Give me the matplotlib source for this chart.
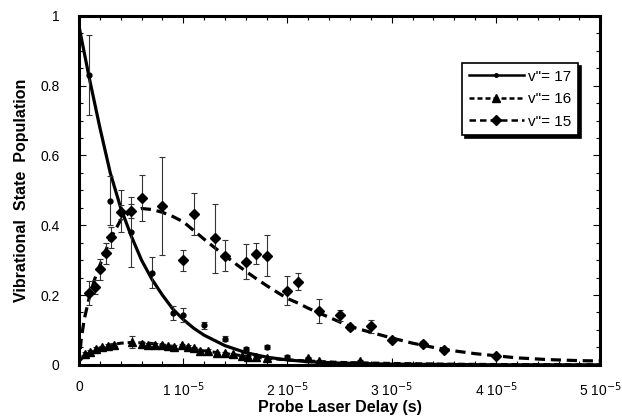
import matplotlib
matplotlib.use("Agg")
import matplotlib.pyplot as plt
import numpy as np
from matplotlib.ticker import MultipleLocator

plt.rcParams['font.family'] = ['Liberation Sans', 'DejaVu Sans']

# measured populations (time in s)
t17 = np.array([1, 3, 4, 5, 7, 9, 10, 12, 14, 16, 18, 20, 22, 27]) * 1e-6
p17 = [0.83, 0.47, 0.44, 0.38, 0.264, 0.148, 0.142, 0.113, 0.075, 0.046, 0.052, 0.023, 0.017, 0.008]
e17 = [0.115, 0.07, 0.06, 0.10, 0.045, 0.02, 0.02, 0.01, 0.008, 0.006, 0.006, 0.004, 0.003, 0.002]

t16 = np.array([0.6, 1.05, 1.6, 2.2, 2.8, 3.4, 5.1, 6.0, 6.6, 7.3, 8.0, 8.5, 9.1, 9.9, 10.5,
                11.0, 11.6, 12.4, 13.2, 14.0, 14.8, 15.6, 16.2, 17.0, 18.0, 22.0, 23.0, 27.0]) * 1e-6
p16 = [0.032, 0.038, 0.046, 0.05, 0.055, 0.058, 0.066, 0.06, 0.058, 0.058, 0.056, 0.054, 0.052, 0.057, 0.052,
       0.047, 0.04, 0.04, 0.035, 0.033, 0.03, 0.026, 0.023, 0.023, 0.02, 0.02, 0.012, 0.012]
e16 = [0.004, 0.004, 0.004, 0.004, 0.004, 0.004, 0.018, 0.005, 0.004, 0.004, 0.004, 0.004, 0.004, 0.004, 0.004,
       0.004, 0.004, 0.004, 0.003, 0.003, 0.003, 0.003, 0.003, 0.003, 0.003, 0.003, 0.002, 0.002]

t15 = np.array([1, 1.5, 2, 2.6, 3.1, 4, 5, 6, 8, 10, 11, 13, 14, 16, 17, 18, 20, 21,
                23, 25, 26, 28, 30, 33, 35, 40]) * 1e-6
p15 = [0.205, 0.222, 0.274, 0.32, 0.365, 0.437, 0.44, 0.478, 0.455, 0.30, 0.432, 0.362, 0.313, 0.295, 0.318, 0.313, 0.212, 0.238,
       0.155, 0.142, 0.107, 0.11, 0.072, 0.061, 0.043, 0.026]
e15 = [0.035, 0.02, 0.03, 0.03, 0.03, 0.02, 0.02, 0.067, 0.14, 0.03, 0.06, 0.1, 0.045, 0.05, 0.03, 0.058, 0.042, 0.025,
       0.034, 0.015, 0.008, 0.018, 0.008, 0.006, 0.006, 0.005]

# fitted curves
tf17 = np.array([0, 1, 2, 3, 4, 5, 6, 7, 8, 9, 10, 11, 12, 14, 16, 18, 20, 22, 25, 30, 40, 50]) * 1e-6
f17 = [0.97, 0.82, 0.68, 0.55, 0.45, 0.37, 0.30, 0.245, 0.20, 0.16, 0.13, 0.105, 0.085, 0.055, 0.035, 0.022,
       0.014, 0.009, 0.005, 0.002, 0.0, 0.0]

tf16 = np.array([0, 0.5, 1, 2, 3, 4, 5, 6, 7, 8, 9, 10, 12, 14, 16, 18, 20, 22, 25, 30, 35, 40, 50]) * 1e-6
f16 = [0.01, 0.025, 0.035, 0.048, 0.057, 0.062, 0.064, 0.063, 0.061, 0.057, 0.053, 0.049, 0.04, 0.032, 0.025,
       0.019, 0.014, 0.011, 0.007, 0.004, 0.002, 0.001, 0.0]

tf15 = np.array([0, 0.2, 0.5, 1, 1.5, 2, 3, 4, 5, 6, 7, 8, 9, 10, 11, 12, 13, 14, 15, 16, 17, 18, 19, 20,
                 21, 22, 24, 26, 28, 30, 32, 34, 36, 38, 40, 42, 45, 48, 50]) * 1e-6
f15 = [0.0, 0.07, 0.13, 0.195, 0.245, 0.285, 0.36, 0.415, 0.44, 0.448, 0.445, 0.437, 0.425, 0.41, 0.385, 0.36,
       0.336, 0.313, 0.29, 0.268, 0.247, 0.227, 0.208, 0.19, 0.177, 0.162, 0.136, 0.11, 0.093, 0.077, 0.062,
       0.05, 0.04, 0.032, 0.026, 0.02, 0.015, 0.012, 0.011]

xticks = [0, 1e-5, 2e-5, 3e-5, 4e-5, 5e-5]
xticklabels = ['0', r'1 10$^{-5}$', r'2 10$^{-5}$', r'3 10$^{-5}$', r'4 10$^{-5}$', r'5 10$^{-5}$']
yticks = [0, 0.2, 0.4, 0.6, 0.8, 1]
yticklabels = ['0', '0.2', '0.4', '0.6', '0.8', '1']

fig = plt.figure(figsize=(6.22, 4.16), dpi=100)
ax = fig.add_axes([0.127, 0.123, 0.838, 0.839])

# fits
ax.plot(tf17, f17, color='black', lw=2.3, zorder=3)
ax.plot(tf16, f16, color='black', lw=2.2, dashes=(2.2, 1.3), zorder=3)
ax.plot(tf15, f15, color='black', lw=2.3, dashes=(3.2, 1.8), zorder=3)

# data with error bars
ax.errorbar(t17, p17, yerr=e17, fmt='o', color='black', ms=3.5, elinewidth=0.8, capsize=2.5, capthick=0.8,
            ecolor='#333333', zorder=4)
ax.errorbar(t16, p16, yerr=e16, fmt='^', color='black', ms=5.5, elinewidth=0.8, capsize=2.5, capthick=0.8,
            ecolor='#333333', zorder=4)
ax.errorbar(t15, p15, yerr=e15, fmt='D', color='black', ms=5, elinewidth=0.8, capsize=2.5, capthick=0.8,
            ecolor='#333333', zorder=4)

# legend proxies
h17, = ax.plot([], [], color='black', lw=1.8, marker='o', ms=2.5)
h16, = ax.plot([], [], color='black', lw=1.8, dashes=(2.0, 1.2), marker='^', ms=6)
h15, = ax.plot([], [], color='black', lw=1.8, dashes=(2.6, 1.6), marker='D', ms=5)
leg = ax.legend([h17, h16, h15], ['v"= 17', 'v"= 16', 'v"= 15'], loc='upper right',
                bbox_to_anchor=(0.958, 0.865), borderaxespad=0, fontsize=11, frameon=True, fancybox=False,
                shadow={'color': 'black', 'alpha': 1}, handlelength=3.6, handletextpad=0.3,
                borderpad=0.45, labelspacing=0.55, edgecolor='black', framealpha=1)
leg.get_frame().set_linewidth(1.2)

ax.set_xlim(0, 5e-5)
ax.set_ylim(0, 1)
ax.set_xticks(xticks)
ax.set_xticklabels(xticklabels)
ax.set_yticks(yticks)
ax.set_yticklabels(yticklabels)
ax.xaxis.set_minor_locator(MultipleLocator(2e-6))
ax.yaxis.set_minor_locator(MultipleLocator(0.05))
ax.tick_params(which='both', direction='in', top=True, right=True, labelsize=10, width=0.8)
ax.tick_params(which='major', length=5)
ax.tick_params(axis='x', which='major', pad=11)
ax.tick_params(axis='y', which='major', pad=14)
ax.tick_params(which='minor', length=3)
for s in ax.spines.values():
    s.set_linewidth(2.2)

ax.set_xlabel('Probe Laser Delay (s)', fontsize=11.5, fontweight='bold', labelpad=1)
ax.set_ylabel('Vibrational  State  Population', fontsize=11.5, fontweight='bold', labelpad=8)

fig.savefig('out.png', dpi=100)
